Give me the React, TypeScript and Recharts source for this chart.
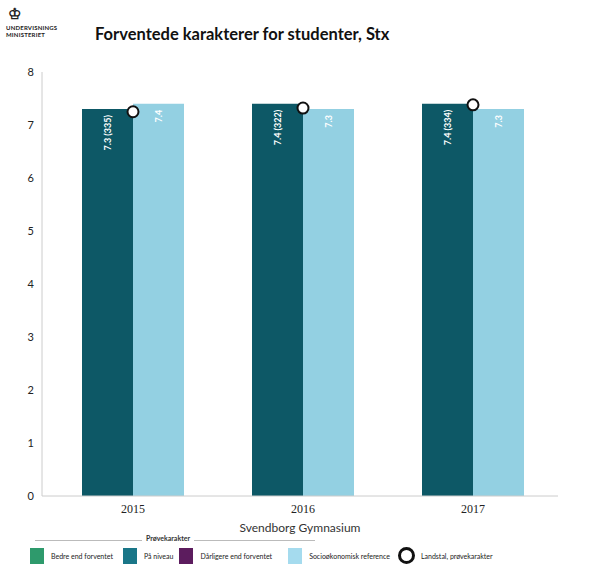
import React from "react";
import {
  ComposedChart,
  Bar,
  Line,
  XAxis,
  YAxis,
  LabelList,
} from "recharts";

const years: string[] = ["2015", "2016", "2017"];
const provekarakter: number[] = [7.3, 7.4, 7.4];
const antal: number[] = [335, 322, 334];
const socioReference: number[] = [7.4, 7.3, 7.3];
const landstal: number[] = [7.25, 7.32, 7.38];
const yTicks: number[] = [0, 1, 2, 3, 4, 5, 6, 7, 8];

const DARK = "#0d5866";
const LIGHT = "#93d0e2";

const data = years.map((year, i) => ({
  year,
  prove: provekarakter[i],
  socio: socioReference[i],
  landstal: landstal[i],
  antal: antal[i],
}));

const fmt = (v: number) => v.toFixed(1);

const RotatedLabel = (props: any) => {
  const { x, y, width, value, index, withCount } = props;
  const text = withCount ? `${fmt(value)} (${antal[index]})` : fmt(value);
  const cx = x + width / 2;
  const cy = y + 6;
  return (
    <text
      x={cx}
      y={cy}
      transform={`rotate(-90, ${cx}, ${cy})`}
      textAnchor="end"
      dominantBaseline="central"
      fill="#ffffff"
      fontSize={9}
      fontWeight={700}
      fontFamily="Lato, sans-serif"
    >
      {text}
    </text>
  );
};

const LegendSwatch = ({ color, label, gap }: { color: string; label: string; gap: number }) => (
  <div style={{ display: "flex", alignItems: "center", marginRight: gap }}>
    <div style={{ width: 14, height: 16, background: color, marginRight: 7 }} />
    <span>{label}</span>
  </div>
);

const App: React.FC = () => {
  return (
    <div
      style={{
        position: "absolute",
        left: 0,
        top: 0,
        width: 594,
        height: 584,
        background: "#ffffff",
        fontFamily: "Lato, sans-serif",
        color: "#222",
      }}
    >
      <div style={{ position: "absolute", left: 8, top: 4, fontSize: 15, fontWeight: 700 }}>
        ♔
      </div>
      <div
        style={{
          position: "absolute",
          left: 6,
          top: 24,
          fontSize: 6,
          fontWeight: 700,
          lineHeight: "7px",
          letterSpacing: 0.2,
        }}
      >
        UNDERVISNINGS
        <br />
        MINISTERIET
      </div>
      <div
        style={{
          position: "absolute",
          left: 95,
          top: 24,
          fontSize: 16.5,
          fontWeight: 700,
          color: "#111",
        }}
      >
        Forventede karakterer for studenter, Stx
      </div>

      <div style={{ position: "absolute", left: 0, top: 0 }}>
        <ComposedChart
          width={594}
          height={540}
          data={data}
          margin={{ top: 72, right: 36, bottom: 0, left: 0 }}
          barGap={0}
        >
          <XAxis
            dataKey="year"
            height={44}
            padding={{ left: 6, right: 0 }}
            tickLine={false}
            axisLine={{ stroke: "#cccccc" }}
            tick={{ fontSize: 12, fill: "#222", fontFamily: "Liberation Serif, serif" }}
            label={{
              value: "Svendborg Gymnasium",
              position: "insideBottom",
              offset: 8,
              fontSize: 12,
              fill: "#333",
              fontFamily: "Lato, sans-serif",
            }}
          />
          <YAxis
            width={42}
            domain={[0, 8]}
            ticks={yTicks}
            interval={0}
            tickLine={false}
            axisLine={{ stroke: "#cccccc" }}
            tick={{ fontSize: 11, fill: "#222", fontFamily: "Lato, sans-serif" }}
          />
          <Bar dataKey="prove" fill={DARK} barSize={51} isAnimationActive={false}>
            <LabelList dataKey="prove" content={(p: any) => <RotatedLabel {...p} withCount />} />
          </Bar>
          <Bar dataKey="socio" fill={LIGHT} barSize={51} isAnimationActive={false}>
            <LabelList dataKey="socio" content={(p: any) => <RotatedLabel {...p} />} />
          </Bar>
          <Line
            dataKey="landstal"
            stroke="none"
            isAnimationActive={false}
            dot={{ r: 5.5, fill: "#ffffff", stroke: "#111", strokeWidth: 2 }}
            activeDot={false}
          />
        </ComposedChart>
      </div>

      <div
        style={{
          position: "absolute",
          left: 35,
          top: 540,
          width: 280,
          borderTop: "1px solid #bbb",
        }}
      />
      <div
        style={{
          position: "absolute",
          left: 142,
          top: 534,
          fontSize: 7,
          background: "#fff",
          padding: "0 4px",
          fontWeight: 700,
          color: "#333",
        }}
      >
        Prøvekarakter
      </div>
      <div
        style={{
          position: "absolute",
          left: 30,
          top: 547,
          display: "flex",
          alignItems: "center",
          fontSize: 7,
          color: "#222",
        }}
      >
        <LegendSwatch color="#2e9a6c" label="Bedre end forventet" gap={10} />
        <LegendSwatch color="#1a7688" label="På niveau" gap={6} />
        <LegendSwatch color="#5c1c5e" label="Dårligere end forventet" gap={16} />
        <LegendSwatch color="#a5dbee" label="Socioøkonomisk reference" gap={8} />
        <div style={{ display: "flex", alignItems: "center" }}>
          <div
            style={{
              width: 11,
              height: 11,
              borderRadius: "50%",
              border: "3px solid #111",
              marginRight: 6,
            }}
          />
          <span>Landstal, prøvekarakter</span>
        </div>
      </div>
    </div>
  );
};

export default App;
